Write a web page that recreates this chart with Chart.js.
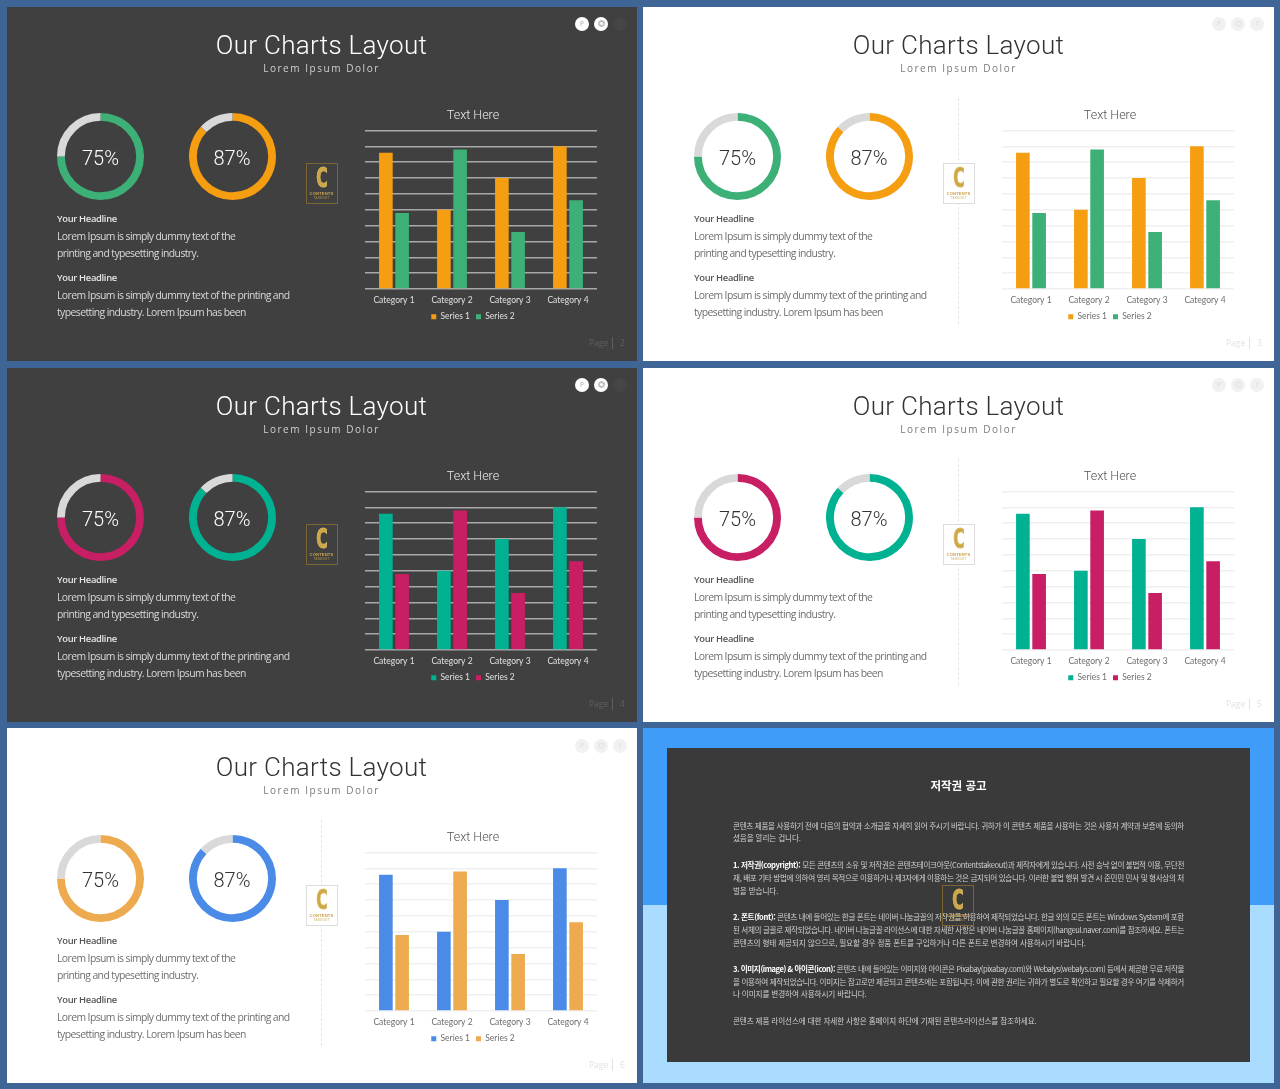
<!DOCTYPE html>
<html lang="ko"><head><meta charset="utf-8">
<script src="https://cdn.jsdelivr.net/npm/chart.js@4/dist/chart.umd.min.js"></script>
<style>
html,body{margin:0;padding:0;background:#3e6595;width:1280px;height:1089px;overflow:hidden}
.bg,.t,.box,canvas,.cir,.logo{position:absolute}
.t{white-space:nowrap;line-height:1;filter:blur(.25px)}
.ttl{font:300 26px/1 "Roboto";letter-spacing:.3px;width:300px;text-align:center;left:171.5px;top:32px}
.sub{font:400 10px/1 "Open Sans";letter-spacing:1.55px;width:300px;text-align:center;left:171.5px;top:62.5px}
.pct{font:300 20px/1 "Roboto";width:87px;text-align:center;top:148px}
.hd{font:600 9.4px/1 "Open Sans";letter-spacing:-.32px;left:57px}
.ln{font:400 10.4px/1 "Open Sans";letter-spacing:-.58px;left:57px}
.pg{font:400 8.5px/1 "Open Sans"}
.cir{width:14px;height:14px;border-radius:50%;top:17px;font:700 7px/14px "Open Sans";text-align:center}
.logo{left:305.5px;top:163px;width:30px;height:39px;border:1px solid;text-align:center;overflow:hidden}
.logo b{display:block;font:700 26px/25px "DejaVu Sans";margin-top:2px;transform:scaleX(.6);color:#cda645;-webkit-text-stroke:1px #d9b75e}
.logo i{display:block;font:700 4.2px/5px "Liberation Sans Narrow","Liberation Sans";font-style:normal;color:#c9a24f;letter-spacing:.1px}
.k{font:400 7.6px/1 "Noto Sans CJK KR";color:#d0d0d0;left:733px;white-space:nowrap}
.k strong{color:#fff;font-weight:700}
</style></head><body>
<script>
// ---- chart data ----
const categories = ["Category 1","Category 2","Category 3","Category 4"];
const series1Values = [4.3,2.5,3.5,4.5];
const series2Values = [2.4,4.4,1.8,2.8];
const seriesNames = ["Series 1","Series 2"];
const ringA = [75,25];
const ringB = [87,13];
const ringLabels = ["75%","87%"];
const axisMax = 5, axisStep = 0.5;
// ---- slide text ----
const slideTitle = "Our Charts Layout", slideSub = "Lorem Ipsum Dolor", chartTitle = "Text Here", headline = "Your Headline";
const para1 = ["Lorem Ipsum is simply dummy text of the","printing and typesetting industry."];
const para2 = ["Lorem Ipsum is simply dummy text of the printing and","typesetting industry. Lorem Ipsum has been"];
const pageNumbers = ["2","3","4","5","6"];
const noticeTitle = "저작권 공고";
const noticeLines = [
 ["콘텐츠 제품을 사용하기 전에 다음의 협약과 소개글을 자세히 읽어 주시기 바랍니다. 귀하가 이 콘텐츠 제품을 사용하는 것은 사용자 계약과 보증에 동의하",1],
 ["셨음을 알리는 겁니다.",0],
 ["<strong>1. 저작권(copyright):</strong> 모든 콘텐츠의 소유 및 저작권은 콘텐츠테이크아웃(Contentstakeout)과 제작자에게 있습니다. 사전 승낙 없이 불법적 이용, 무단전",1],
 ["재, 배포 기타 방법에 의하여 영리 목적으로 이용하거나 제3자에게 이용하는 것은 금지되어 있습니다. 이러한 불법 행위 발견 시 준민민 민사 및 형사상의 처",1],
 ["벌을 받습니다.",0],
 ["<strong>2. 폰트(font):</strong> 콘텐츠 내에 들어있는 한글 폰트는 네이버 나눔글꼴의 저작권을 허용하여 제작되었습니다. 한글 외의 모든 폰트는 Windows System에 포함",1],
 ["된 서체의 글꼴로 제작되었습니다. 네이버 나눔글꼴 라이선스에 대한 자세한 사항은 네이버 나눔글꼴 홈페이지(hangeul.naver.com)를 참조하세요. 폰트는",1],
 ["콘텐츠의 형태 제공되지 않으므로, 필요할 경우 정품 폰트를 구입하거나 다른 폰트로 변경하여 사용하시기 바랍니다.",0],
 ["<strong>3. 이미지(image) &amp; 아이콘(icon):</strong> 콘텐츠 내에 들어있는 이미지와 아이콘은 Pixabay(pixabay.com)와 Webalys(webalys.com) 등에서 제공한 무료 저작물",1],
 ["을 이용하여 제작되었습니다. 이미지는 참고로만 제공되고 콘텐츠에는 포함됩니다. 이에 관한 권리는 귀하가 별도로 확인하고 필요할 경우 여기를 삭제하거",1],
 ["나 이미지를 변경하여 사용하시기 바랍니다.",0],
 ["콘텐츠 제품 라이선스에 대한 자세한 사항은 홈페이지 하단에 기재된 콘텐츠라이선스를 참조하세요.",0]
];
const noticeTops = [822,834,861,874,887,913,926,939,965,978,990,1017];

const themes = {
 dark:{bg:"#404040",title:"#ffffff",sub:"#d0d0d0",hd:"#e6e6e6",body:"#d9d9d9",grid:"#a8a8a8",gridW:1.5,tick:"#e0e0e0",chartT:"#e8e8e8",track:"#d9d9d9",pct:"#ffffff",page:"#5f5f5f",logoB:"#7d6433"},
 light:{bg:"#ffffff",title:"#333333",sub:"#7a7a7a",hd:"#555555",body:"#6e6e6e",grid:"#f0f0f0",gridW:1.5,tick:"#6e6e6e",chartT:"#555555",track:"#d9d9d9",pct:"#333333",page:"#e2e2e2",logoB:"#dddddd"}
};
const slides = [
 {x:0,y:0,bgL:7,bgW:630,bgT:7,bgH:354,th:"dark",c1:"#f59e12",c2:"#3cb076",r1:"#3cb076",r2:"#f59e12",pg:0,ic:["#ffffff","#ffffff","#454545"],gl:["#cfcfcf","#9a9a9a","#4a4a4a"]},
 {x:637,y:0,bgL:643,bgW:631,bgT:7,bgH:354,th:"light",c1:"#f59e12",c2:"#3cb076",r1:"#3cb076",r2:"#f59e12",pg:1,ic:["#f1f1f1","#f1f1f1","#f1f1f1"],gl:["#e4e4e4","#e4e4e4","#e4e4e4"]},
 {x:0,y:361,bgL:7,bgW:630,bgT:368,bgH:354,th:"dark",c1:"#00b292",c2:"#c81e64",r1:"#c81e64",r2:"#00b292",pg:2,ic:["#ffffff","#ffffff","#454545"],gl:["#cfcfcf","#9a9a9a","#4a4a4a"]},
 {x:637,y:361,bgL:643,bgW:631,bgT:368,bgH:354,th:"light",c1:"#00b292",c2:"#c81e64",r1:"#c81e64",r2:"#00b292",pg:3,ic:["#f1f1f1","#f1f1f1","#f1f1f1"],gl:["#e4e4e4","#e4e4e4","#e4e4e4"]},
 {x:0,y:722,bgL:7,bgW:630,bgT:728,bgH:355,th:"light",c1:"#4a8be8",c2:"#eeaa4e",r1:"#eeaa4e",r2:"#4a8be8",pg:4,ic:["#f1f1f1","#f1f1f1","#f1f1f1"],gl:["#e4e4e4","#e4e4e4","#e4e4e4"]}
];
const iconGlyphs = ["P","◎","f"];

function el(cls,parent,css,html){const d=document.createElement("div");d.className=cls;if(css)d.style.cssText=css;if(html!=null)d.innerHTML=html;parent.appendChild(d);return d;}
function bgRect(l,t,w,h,c){el("bg",document.body,`left:${l}px;top:${t}px;width:${w}px;height:${h}px;background:${c}`);}
function canvas(host,l,t,w,h){const c=document.createElement("canvas");c.width=w;c.height=h;c.style.cssText=`left:${l}px;top:${t}px;width:${w}px;height:${h}px`;host.appendChild(c);return c;}

function ring(host,left,values,color,track){
 new Chart(canvas(host,left,112.5,87,87),{type:"doughnut",
  data:{labels:["Value","Rest"],datasets:[{data:values,backgroundColor:[color,track],borderWidth:0}]},
  options:{responsive:false,animation:false,cutout:"82%",plugins:{legend:{display:false},tooltip:{enabled:false}},layout:{padding:0}}});
}
function logo(host,T,light,l,t){
 const d=el("logo",host,`border-color:${T.logoB};background:${light?"#fff":"transparent"};`+(l!=null?`left:${l}px;top:${t}px;`:""));
 el("",d,"","<b>C</b><i>CONTENTS</i><i style='opacity:.6;font-size:3.2px;line-height:4px'>TAKEOUT</i>");
}
function buildSlide(s){
 const T=themes[s.th];
 bgRect(s.bgL,s.bgT,s.bgW,s.bgH,T.bg);
 const h=el("",document.body,`position:absolute;left:${s.x}px;top:${s.y}px;width:0;height:0`);
 el("t ttl",h,`color:${T.title}`,slideTitle);
 el("t sub",h,`color:${T.sub}`,slideSub);
 iconGlyphs.forEach((g,i)=>{el("cir",h,`left:${575+i*19}px;background:${s.ic[i]};color:${s.gl[i]}`,g);});
 ring(h,57,ringA,s.r1,T.track); ring(h,188.5,ringB,s.r2,T.track);
 el("t pct",h,`left:57px;color:${T.pct}`,ringLabels[0]);
 el("t pct",h,`left:188.5px;color:${T.pct}`,ringLabels[1]);
 el("t hd",h,`top:214px;color:${T.hd}`,headline);
 el("t ln",h,`top:231px;color:${T.body}`,para1[0]);
 el("t ln",h,`top:248px;color:${T.body}`,para1[1]);
 el("t hd",h,`top:273px;color:${T.hd}`,headline);
 el("t ln",h,`top:290px;color:${T.body}`,para2[0]);
 el("t ln",h,`top:307px;color:${T.body}`,para2[1]);
 if(s.th==="light") el("bg",h,"left:321px;top:98px;width:0;height:226px;border-left:1px dashed #e6e6e6");
 logo(h,T,s.th==="light");
 el("t pg",h,`left:589px;top:339px;color:${T.page}`,"Page");
 el("bg",h,`left:612px;top:337px;width:1px;height:12px;background:${T.page}`);
 el("t pg",h,`left:620px;top:339px;color:${T.page}`,pageNumbers[s.pg]);
 new Chart(canvas(h,349,105,248,226),{type:"bar",
  data:{labels:categories,datasets:[
   {label:seriesNames[0],data:series1Values,backgroundColor:s.c1},
   {label:seriesNames[1],data:series2Values,backgroundColor:s.c2}]},
  options:{responsive:false,animation:false,
   layout:{padding:0},
   datasets:{bar:{categoryPercentage:.56,barPercentage:.84}},
   plugins:{tooltip:{enabled:false},
    title:{display:true,text:chartTitle,color:T.chartT,font:{family:"Roboto",weight:"300",size:12.5},padding:{top:3,bottom:7.5}},
    legend:{position:"bottom",labels:{color:T.tick,boxWidth:5,boxHeight:5,padding:6,font:{family:"Lato",size:8.5}}}},
   scales:{
    x:{grid:{display:false,drawTicks:false},border:{display:false},ticks:{color:T.tick,font:{family:"Lato",size:8.5},padding:6,maxRotation:0},
       afterFit:sc=>{sc.height=42-sc.chart.legend.height;}},
    y:{min:0,max:axisMax,ticks:{stepSize:axisStep,display:false},border:{display:false},grid:{color:T.grid,lineWidth:T.gridW,drawTicks:false},
       afterFit:sc=>{sc.width=16;}}
   }}});
}
slides.forEach(buildSlide);
// ---- notice slide ----
bgRect(643,728,631,177,"#3f9cf8");
bgRect(643,905,631,178,"#aadcff");
bgRect(667,748,583,314,"#3a3a3a");
el("t",document.body,"left:667px;width:583px;text-align:center;top:780px;font:700 11.5px/1 'Noto Sans CJK KR';color:#fff",noticeTitle);
const NOTICE_W=451;
noticeLines.forEach((l,i)=>{
 const d=el("t k",document.body,`top:${noticeTops[i]}px`,l[0]);
 if(l[1]){const w=d.getBoundingClientRect().width;d.style.letterSpacing=((NOTICE_W-w)/d.textContent.length)+"px";}
 else d.style.letterSpacing="-.12px";
});
logo(document.body,themes.dark,false,942,885);
</script>
</body></html>
